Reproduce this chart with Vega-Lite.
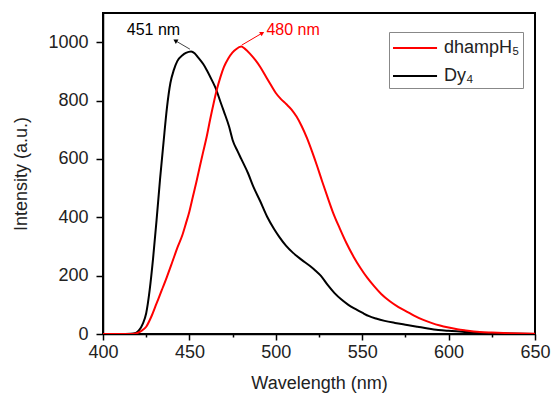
{
  "$schema": "https://vega.github.io/schema/vega-lite/v6.json",
  "autosize": "none",
  "width": 432,
  "height": 321,
  "padding": {"left": 103, "top": 13, "right": 20, "bottom": 61},
  "background": "white",
  "config": {
    "view": {"stroke": "black", "strokeWidth": 2},
    "font": "Liberation Sans",
    "axis": {
      "grid": false,
      "domainColor": "black",
      "domainWidth": 1.5,
      "tickColor": "black",
      "tickWidth": 1.5,
      "labelColor": "#222",
      "titleColor": "#222",
      "labelFont": "Liberation Sans",
      "titleFont": "Liberation Sans",
      "labelFontSize": 18,
      "titleFontSize": 18,
      "titleFontWeight": "normal",
      "labelFlush": false
    }
  },
  "datasets": {
    "spectra": [
      {"series": "Dy₄", "wl": 400, "intensity": 0},
      {"series": "Dy₄", "wl": 410, "intensity": 0},
      {"series": "Dy₄", "wl": 416, "intensity": 1},
      {"series": "Dy₄", "wl": 419, "intensity": 4},
      {"series": "Dy₄", "wl": 421, "intensity": 14},
      {"series": "Dy₄", "wl": 423, "intensity": 35},
      {"series": "Dy₄", "wl": 425, "intensity": 71},
      {"series": "Dy₄", "wl": 427, "intensity": 150},
      {"series": "Dy₄", "wl": 429, "intensity": 260},
      {"series": "Dy₄", "wl": 431, "intensity": 390},
      {"series": "Dy₄", "wl": 433, "intensity": 530},
      {"series": "Dy₄", "wl": 435, "intensity": 655},
      {"series": "Dy₄", "wl": 437, "intensity": 775},
      {"series": "Dy₄", "wl": 439, "intensity": 860},
      {"series": "Dy₄", "wl": 441, "intensity": 905},
      {"series": "Dy₄", "wl": 443, "intensity": 935},
      {"series": "Dy₄", "wl": 446, "intensity": 955},
      {"series": "Dy₄", "wl": 448, "intensity": 963},
      {"series": "Dy₄", "wl": 451, "intensity": 968},
      {"series": "Dy₄", "wl": 453, "intensity": 962},
      {"series": "Dy₄", "wl": 455, "intensity": 948},
      {"series": "Dy₄", "wl": 458, "intensity": 925},
      {"series": "Dy₄", "wl": 460, "intensity": 905},
      {"series": "Dy₄", "wl": 463, "intensity": 870},
      {"series": "Dy₄", "wl": 465, "intensity": 845},
      {"series": "Dy₄", "wl": 468, "intensity": 795},
      {"series": "Dy₄", "wl": 470, "intensity": 762},
      {"series": "Dy₄", "wl": 473, "intensity": 710},
      {"series": "Dy₄", "wl": 475, "intensity": 665},
      {"series": "Dy₄", "wl": 478, "intensity": 625},
      {"series": "Dy₄", "wl": 480, "intensity": 600},
      {"series": "Dy₄", "wl": 484, "intensity": 550},
      {"series": "Dy₄", "wl": 487, "intensity": 505},
      {"series": "Dy₄", "wl": 491, "intensity": 455},
      {"series": "Dy₄", "wl": 495, "intensity": 402},
      {"series": "Dy₄", "wl": 499, "intensity": 360},
      {"series": "Dy₄", "wl": 502, "intensity": 333},
      {"series": "Dy₄", "wl": 506, "intensity": 302},
      {"series": "Dy₄", "wl": 510, "intensity": 278},
      {"series": "Dy₄", "wl": 515, "intensity": 254},
      {"series": "Dy₄", "wl": 520, "intensity": 232},
      {"series": "Dy₄", "wl": 523, "intensity": 217},
      {"series": "Dy₄", "wl": 526, "intensity": 200},
      {"series": "Dy₄", "wl": 530, "intensity": 168},
      {"series": "Dy₄", "wl": 534, "intensity": 140},
      {"series": "Dy₄", "wl": 538, "intensity": 118},
      {"series": "Dy₄", "wl": 542, "intensity": 100},
      {"series": "Dy₄", "wl": 546, "intensity": 86},
      {"series": "Dy₄", "wl": 550, "intensity": 73},
      {"series": "Dy₄", "wl": 554, "intensity": 61},
      {"series": "Dy₄", "wl": 558, "intensity": 53},
      {"series": "Dy₄", "wl": 563, "intensity": 45},
      {"series": "Dy₄", "wl": 569, "intensity": 38},
      {"series": "Dy₄", "wl": 576, "intensity": 31},
      {"series": "Dy₄", "wl": 582, "intensity": 25},
      {"series": "Dy₄", "wl": 588, "intensity": 19},
      {"series": "Dy₄", "wl": 594, "intensity": 14},
      {"series": "Dy₄", "wl": 600, "intensity": 11},
      {"series": "Dy₄", "wl": 608, "intensity": 8},
      {"series": "Dy₄", "wl": 615, "intensity": 5},
      {"series": "Dy₄", "wl": 625, "intensity": 3},
      {"series": "Dy₄", "wl": 635, "intensity": 2},
      {"series": "Dy₄", "wl": 650, "intensity": 0},
      {"series": "dhampH₅", "wl": 400, "intensity": 0},
      {"series": "dhampH₅", "wl": 415, "intensity": 0},
      {"series": "dhampH₅", "wl": 419, "intensity": 2},
      {"series": "dhampH₅", "wl": 422, "intensity": 10},
      {"series": "dhampH₅", "wl": 425, "intensity": 25},
      {"series": "dhampH₅", "wl": 428, "intensity": 60},
      {"series": "dhampH₅", "wl": 431, "intensity": 105},
      {"series": "dhampH₅", "wl": 434, "intensity": 150},
      {"series": "dhampH₅", "wl": 437, "intensity": 196},
      {"series": "dhampH₅", "wl": 440, "intensity": 245},
      {"series": "dhampH₅", "wl": 443, "intensity": 295},
      {"series": "dhampH₅", "wl": 446, "intensity": 340},
      {"series": "dhampH₅", "wl": 448, "intensity": 379},
      {"series": "dhampH₅", "wl": 450, "intensity": 420},
      {"series": "dhampH₅", "wl": 452, "intensity": 470},
      {"series": "dhampH₅", "wl": 454, "intensity": 520},
      {"series": "dhampH₅", "wl": 456, "intensity": 573},
      {"series": "dhampH₅", "wl": 458, "intensity": 625},
      {"series": "dhampH₅", "wl": 460, "intensity": 676},
      {"series": "dhampH₅", "wl": 462, "intensity": 735},
      {"series": "dhampH₅", "wl": 464, "intensity": 790},
      {"series": "dhampH₅", "wl": 466, "intensity": 840},
      {"series": "dhampH₅", "wl": 468, "intensity": 881},
      {"series": "dhampH₅", "wl": 470, "intensity": 915},
      {"series": "dhampH₅", "wl": 472.5, "intensity": 944},
      {"series": "dhampH₅", "wl": 475, "intensity": 965},
      {"series": "dhampH₅", "wl": 477, "intensity": 976},
      {"series": "dhampH₅", "wl": 480, "intensity": 985},
      {"series": "dhampH₅", "wl": 482, "intensity": 978},
      {"series": "dhampH₅", "wl": 485, "intensity": 961},
      {"series": "dhampH₅", "wl": 488, "intensity": 940},
      {"series": "dhampH₅", "wl": 491, "intensity": 915},
      {"series": "dhampH₅", "wl": 494, "intensity": 885},
      {"series": "dhampH₅", "wl": 497, "intensity": 855},
      {"series": "dhampH₅", "wl": 500, "intensity": 826},
      {"series": "dhampH₅", "wl": 503, "intensity": 805},
      {"series": "dhampH₅", "wl": 506, "intensity": 788},
      {"series": "dhampH₅", "wl": 509, "intensity": 770},
      {"series": "dhampH₅", "wl": 512, "intensity": 745},
      {"series": "dhampH₅", "wl": 515, "intensity": 712},
      {"series": "dhampH₅", "wl": 518, "intensity": 672},
      {"series": "dhampH₅", "wl": 521, "intensity": 625},
      {"series": "dhampH₅", "wl": 524, "intensity": 574},
      {"series": "dhampH₅", "wl": 527, "intensity": 520},
      {"series": "dhampH₅", "wl": 530, "intensity": 468},
      {"series": "dhampH₅", "wl": 533, "intensity": 418},
      {"series": "dhampH₅", "wl": 537, "intensity": 362},
      {"series": "dhampH₅", "wl": 541, "intensity": 310},
      {"series": "dhampH₅", "wl": 545, "intensity": 265},
      {"series": "dhampH₅", "wl": 549, "intensity": 226},
      {"series": "dhampH₅", "wl": 553, "intensity": 192},
      {"series": "dhampH₅", "wl": 557, "intensity": 163},
      {"series": "dhampH₅", "wl": 561, "intensity": 137},
      {"series": "dhampH₅", "wl": 566, "intensity": 112},
      {"series": "dhampH₅", "wl": 571, "intensity": 92},
      {"series": "dhampH₅", "wl": 576, "intensity": 76},
      {"series": "dhampH₅", "wl": 580, "intensity": 63},
      {"series": "dhampH₅", "wl": 585, "intensity": 49},
      {"series": "dhampH₅", "wl": 590, "intensity": 38},
      {"series": "dhampH₅", "wl": 595, "intensity": 29},
      {"series": "dhampH₅", "wl": 600, "intensity": 22},
      {"series": "dhampH₅", "wl": 605, "intensity": 16},
      {"series": "dhampH₅", "wl": 610, "intensity": 12},
      {"series": "dhampH₅", "wl": 618, "intensity": 7},
      {"series": "dhampH₅", "wl": 625, "intensity": 5},
      {"series": "dhampH₅", "wl": 635, "intensity": 3},
      {"series": "dhampH₅", "wl": 650, "intensity": 1}
    ],
    "peak451": [{"label": "451 nm", "wl": 429.2, "intensity": 1041, "wl0": 450.3, "i0": 976, "wl1": 442.2, "i1": 1004}],
    "peak480": [{"label": "480 nm", "wl": 510, "intensity": 1041, "wl0": 480.3, "i0": 990, "wl1": 491.8, "i1": 1030}]
  },
  "layer": [
    {
      "data": {"name": "spectra"},
      "mark": {"type": "line", "strokeWidth": 2, "interpolate": "monotone", "clip": true},
      "encoding": {
        "x": {
          "field": "wl", "type": "quantitative",
          "scale": {"domain": [400, 650], "nice": false, "zero": false},
          "axis": {
            "title": "Wavelength (nm)",
            "values": [400, 425, 450, 475, 500, 525, 550, 575, 600, 625, 650],
            "labelExpr": "datum.value % 50 === 0 ? datum.label : ''",
            "tickSize": {"condition": {"test": "datum.value % 50 === 0", "value": 6}, "value": 3},
            "labelPadding": 3,
            "titlePadding": 13
          }
        },
        "y": {
          "field": "intensity", "type": "quantitative",
          "scale": {"domain": [0, 1100], "nice": false},
          "axis": {
            "title": "Intensity (a.u.)",
            "values": [0, 100, 200, 300, 400, 500, 600, 700, 800, 900, 1000],
            "labelExpr": "datum.value % 200 === 0 ? datum.label : ''",
            "format": "d",
            "tickSize": {"condition": {"test": "datum.value % 200 === 0", "value": 7}, "value": 3},
            "labelPadding": 8,
            "titlePadding": 17
          }
        },
        "color": {
          "field": "series", "type": "nominal",
          "scale": {"domain": ["dhampH₅", "Dy₄"], "range": ["#ff0000", "#000000"]},
          "legend": {
            "title": null,
            "orient": "none",
            "legendX": 286,
            "legendY": 19,
            "symbolType": "M-1,0H2.67",
            "symbolSize": 576,
            "symbolStrokeWidth": 2,
            "labelFontSize": 18,
            "labelFont": "Liberation Sans",
            "labelColor": "#222",
            "strokeColor": "#888",
            "padding": 3,
            "rowPadding": 6,
            "labelOffset": 26
          }
        }
      }
    },
    {
      "data": {"name": "peak451"},
      "mark": {"type": "rule", "color": "#444", "strokeWidth": 1},
      "encoding": {
        "x": {"field": "wl0", "type": "quantitative"},
        "y": {"field": "i0", "type": "quantitative"},
        "x2": {"field": "wl1"},
        "y2": {"field": "i1"}
      }
    },
    {
      "data": {"name": "peak451"},
      "mark": {"type": "point", "shape": "triangle", "filled": true, "color": "black", "size": 25, "angle": 301, "opacity": 1},
      "encoding": {
        "x": {"field": "wl1", "type": "quantitative"},
        "y": {"field": "i1", "type": "quantitative"}
      }
    },
    {
      "data": {"name": "peak451"},
      "mark": {"type": "text", "color": "black", "fontSize": 16, "font": "Liberation Sans"},
      "encoding": {
        "x": {"field": "wl", "type": "quantitative"},
        "y": {"field": "intensity", "type": "quantitative"},
        "text": {"field": "label"}
      }
    },
    {
      "data": {"name": "peak480"},
      "mark": {"type": "rule", "color": "#ff0000", "strokeWidth": 1},
      "encoding": {
        "x": {"field": "wl0", "type": "quantitative"},
        "y": {"field": "i0", "type": "quantitative"},
        "x2": {"field": "wl1"},
        "y2": {"field": "i1"}
      }
    },
    {
      "data": {"name": "peak480"},
      "mark": {"type": "point", "shape": "triangle", "filled": true, "color": "#ff0000", "size": 25, "angle": 60, "opacity": 1},
      "encoding": {
        "x": {"field": "wl1", "type": "quantitative"},
        "y": {"field": "i1", "type": "quantitative"}
      }
    },
    {
      "data": {"name": "peak480"},
      "mark": {"type": "text", "color": "#ff0000", "fontSize": 16, "font": "Liberation Sans"},
      "encoding": {
        "x": {"field": "wl", "type": "quantitative"},
        "y": {"field": "intensity", "type": "quantitative"},
        "text": {"field": "label"}
      }
    }
  ]
}
